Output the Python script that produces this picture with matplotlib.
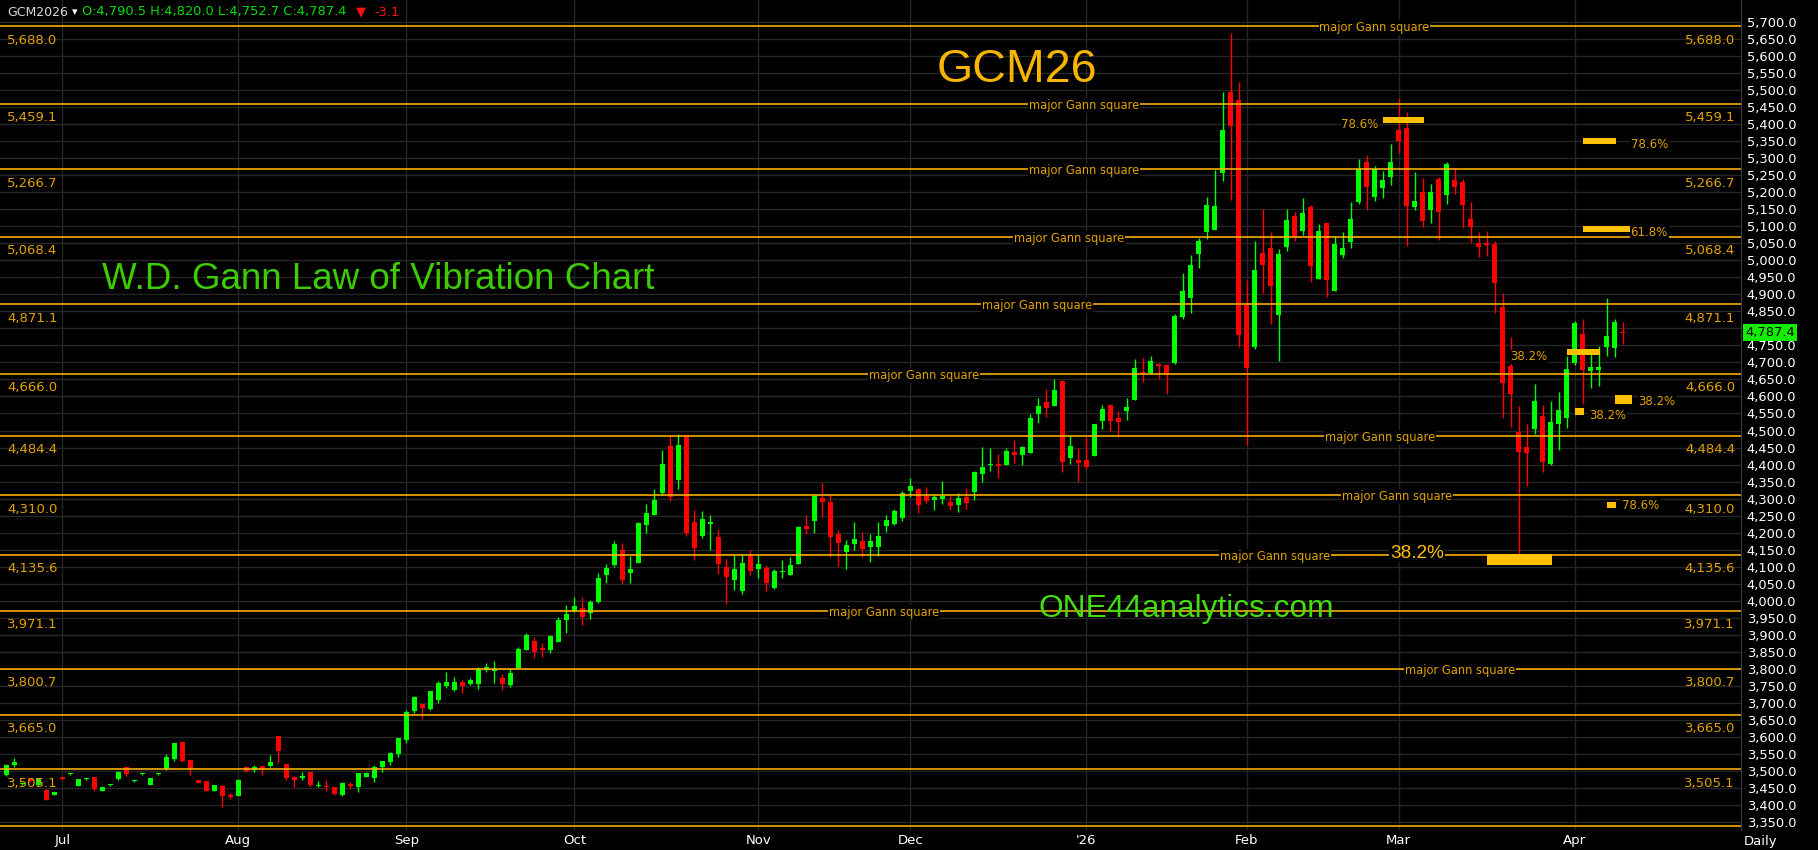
import numpy as np
import matplotlib.pyplot as plt
from matplotlib.patches import Rectangle
from matplotlib.transforms import blended_transform_factory

# daily bars for GCM26, late Jun 2025 -> Apr 2026
opens = [3488, 3518, 3462, 3478, 3459, 3444, 3430, 3482, 3490, 3457,
         3476, 3481, 3442, 3458, 3476, 3511, 3470, 3490, 3459, 3490,
         3505, 3535, 3585, 3532, 3473, 3471, 3441, 3456, 3429, 3427,
         3512, 3502, 3515, 3515, 3603, 3520, 3483, 3478, 3497, 3457,
         3457, 3452, 3430, 3463, 3454, 3483, 3480, 3513, 3527, 3551,
         3591, 3677, 3697, 3682, 3708, 3750, 3738, 3761, 3755, 3755,
         3798, 3795, 3773, 3753, 3803, 3855, 3882, 3861, 3855, 3879,
         3943, 3971, 3979, 3964, 3996, 4076, 4105, 4149, 4082, 4111,
         4222, 4252, 4316, 4455, 4355, 4487, 4231, 4191, 4226, 4187,
         4099, 4062, 4030, 4131, 4094, 4096, 4038, 4083, 4077, 4109,
         4221, 4235, 4303, 4290, 4196, 4144, 4167, 4175, 4159, 4159,
         4221, 4226, 4244, 4323, 4328, 4308, 4297, 4299, 4290, 4282,
         4305, 4320, 4373, 4399, 4402, 4400, 4437, 4429, 4435, 4549,
         4584, 4573, 4646, 4420, 4413, 4413, 4426, 4529, 4575, 4537,
         4558, 4590, 4673, 4668, 4695, 4692, 4699, 4834, 4890, 5019,
         5084, 5090, 5257, 5494, 5471, 4870, 4746, 5021, 5036, 4840,
         5040, 5130, 5087, 5155, 4945, 5109, 4911, 5015, 5055, 5172,
         5290, 5187, 5213, 5245, 5384, 5387, 5156, 5200, 5148, 5240,
         5192, 5237, 5230, 5121, 5051, 5051, 5049, 4862, 4689, 4496,
         4452, 4505, 4543, 4403, 4520, 4538, 4699, 4783, 4676, 4678,
         4746, 4743, 4790.5]
highs = [3521, 3539, 3468, 3480, 3480, 3446, 3439, 3483, 3493, 3477,
         3480, 3483, 3454, 3463, 3500, 3513, 3473, 3493, 3479, 3493,
         3550, 3583, 3586, 3533, 3474, 3472, 3460, 3459, 3436, 3476,
         3514, 3518, 3516, 3547, 3604, 3521, 3485, 3498, 3498, 3471,
         3473, 3453, 3468, 3469, 3495, 3496, 3518, 3530, 3557, 3597,
         3679, 3721, 3698, 3736, 3764, 3791, 3776, 3767, 3773, 3805,
         3817, 3823, 3785, 3800, 3864, 3905, 3894, 3876, 3899, 3952,
         3988, 4011, 4011, 4002, 4082, 4108, 4175, 4170, 4131, 4231,
         4284, 4328, 4443, 4484, 4490, 4489, 4266, 4264, 4252, 4211,
         4123, 4134, 4134, 4149, 4134, 4105, 4093, 4120, 4128, 4220,
         4252, 4314, 4346, 4314, 4208, 4178, 4231, 4202, 4196, 4231,
         4252, 4270, 4322, 4361, 4331, 4334, 4314, 4352, 4308, 4316,
         4331, 4381, 4452, 4449, 4431, 4450, 4472, 4455, 4549, 4595,
         4622, 4651, 4647, 4485, 4450, 4482, 4520, 4575, 4578, 4557,
         4595, 4710, 4713, 4719, 4698, 4693, 4842, 4962, 5015, 5065,
         5186, 5265, 5494, 5667, 5523, 4942, 5056, 5150, 5083, 5033,
         5150, 5142, 5183, 5162, 5106, 5110, 5071, 5083, 5171, 5297,
         5308, 5277, 5262, 5341, 5476, 5434, 5259, 5242, 5224, 5246,
         5290, 5271, 5238, 5171, 5083, 5086, 5058, 4903, 4775, 4572,
         4519, 4637, 4575, 4587, 4613, 4719, 4823, 4827, 4733, 4748,
         4890, 4828, 4820.0]
lows = [3486, 3513, 3460, 3468, 3457, 3414, 3429, 3475, 3489, 3456,
        3473, 3442, 3441, 3457, 3475, 3485, 3469, 3489, 3458, 3489,
        3503, 3529, 3527, 3488, 3465, 3440, 3440, 3395, 3419, 3426,
        3498, 3498, 3488, 3512, 3524, 3473, 3454, 3475, 3452, 3453,
        3442, 3429, 3428, 3447, 3439, 3482, 3469, 3498, 3517, 3540,
        3583, 3671, 3654, 3679, 3701, 3745, 3735, 3729, 3754, 3741,
        3792, 3758, 3738, 3747, 3802, 3854, 3832, 3835, 3847, 3878,
        3905, 3968, 3929, 3946, 3994, 4052, 4099, 4049, 4052, 4110,
        4199, 4251, 4311, 4293, 4328, 4190, 4120, 4185, 4150, 4080,
        3991, 4032, 4021, 4077, 4068, 4030, 4035, 4068, 4076, 4108,
        4197, 4200, 4247, 4129, 4103, 4094, 4150, 4129, 4115, 4132,
        4203, 4223, 4235, 4306, 4259, 4288, 4268, 4284, 4268, 4262,
        4270, 4297, 4350, 4382, 4361, 4399, 4404, 4400, 4434, 4523,
        4541, 4572, 4379, 4403, 4350, 4386, 4425, 4505, 4500, 4482,
        4532, 4589, 4643, 4667, 4652, 4608, 4696, 4828, 4846, 4978,
        5063, 5089, 5234, 5178, 4746, 4457, 4740, 4905, 4814, 4705,
        5028, 5057, 5075, 4937, 4944, 4893, 4910, 5008, 5037, 5166,
        5149, 5175, 5184, 5222, 5314, 5043, 5149, 5099, 5110, 5060,
        5166, 5196, 5096, 5052, 5009, 5013, 4846, 4538, 4510, 4129,
        4338, 4491, 4379, 4400, 4444, 4508, 4691, 4579, 4626, 4632,
        4720, 4717, 4752.7]
closes = [3518, 3527, 3465, 3470, 3478, 3415, 3438, 3476, 3492, 3476,
          3478, 3447, 3453, 3462, 3497, 3492, 3472, 3492, 3478, 3492,
          3541, 3582, 3529, 3505, 3466, 3441, 3459, 3427, 3424, 3474,
          3500, 3512, 3503, 3526, 3559, 3480, 3474, 3486, 3460, 3460,
          3453, 3432, 3465, 3457, 3494, 3495, 3512, 3529, 3554, 3597,
          3673, 3717, 3686, 3735, 3758, 3761, 3761, 3750, 3767, 3800,
          3806, 3800, 3755, 3788, 3858, 3899, 3850, 3855, 3896, 3943,
          3961, 3985, 3952, 3996, 4067, 4096, 4167, 4061, 4093, 4228,
          4258, 4296, 4402, 4306, 4458, 4199, 4156, 4240, 4231, 4109,
          4071, 4093, 4111, 4088, 4108, 4053, 4087, 4086, 4105, 4217,
          4212, 4309, 4291, 4188, 4171, 4164, 4181, 4152, 4175, 4191,
          4237, 4264, 4316, 4337, 4282, 4294, 4305, 4309, 4279, 4302,
          4288, 4378, 4393, 4402, 4397, 4440, 4427, 4452, 4537, 4572,
          4567, 4619, 4408, 4455, 4405, 4394, 4519, 4563, 4529, 4526,
          4569, 4684, 4669, 4704, 4690, 4664, 4836, 4910, 4986, 5056,
          5162, 5159, 5382, 5395, 4781, 4684, 4971, 4986, 4925, 5018,
          5118, 5069, 5139, 4984, 5086, 4943, 5048, 5036, 5121, 5267,
          5216, 5267, 5235, 5289, 5351, 5160, 5174, 5116, 5200, 5143,
          5283, 5216, 5163, 5099, 5040, 5046, 4932, 4640, 4608, 4438,
          4434, 4587, 4407, 4525, 4560, 4681, 4817, 4679, 4686, 4686,
          4777, 4819, 4787.4]
net_change = -3.1

# first bar of each month
month_idx = [7, 29, 50, 71, 94, 113, 135, 155, 174, 196]
month_lbls = ['Jul', 'Aug', 'Sep', 'Oct', 'Nov', 'Dec', "'26", 'Feb', 'Mar', 'Apr']

# Gann square levels, and where the "major Gann square" tag sits (bar index)
levels = [5688.0, 5459.1, 5266.7, 5068.4, 4871.1, 4666.0, 4484.4, 4310.0,
          4135.6, 3971.1, 3800.7, 3665.0, 3505.1, 3338.9]
level_tag_at = [171, 134.7, 134.7, 132.8, 128.8, 114.7, 171.7, 173.8,
                158.6, 109.7, 181.7, None, None, None]
show_level_price = [True] * 13 + [False]

# retracement markers: bar range, price range
marks_x0 = [172.0, 197.0, 197.0, 195.0, 201.0, 196.0, 200.0, 185.0]
marks_x1 = [177.2, 201.2, 203.0, 199.2, 203.2, 197.2, 201.2, 193.2]
marks_lo = [5403, 5341, 5083, 4722, 4578, 4545, 4272, 4105]
marks_hi = [5421, 5359, 5101, 4739, 4604, 4566, 4290, 4137]
# retracement texts: label, bar pos, price, alignment
pct_lbls = ['78.6%', '78.6%', '61.8%', '38.2%', '38.2%', '38.2%', '78.6%']
pct_x = [171.5, 203.0, 203.0, 187.9, 204.0, 197.8, 201.9]
pct_y = [5400, 5341, 5083, 4716, 4584, 4543, 4281]
pct_ha = ['right', 'left', 'left', 'left', 'left', 'left', 'left']

W, H = 1818, 850
GOLD = '#ffb400'
GOLD_TXT = '#e0a200'
UP, DN = '#00ff00', '#ff0000'

fig = plt.figure(figsize=(W / 100, H / 100), dpi=100, facecolor='black')
ax = fig.add_axes([0, 20 / H, 1741 / W, 830 / H], facecolor='black')

o = np.array(opens, float)
c = np.array(closes, float)
hi = np.array(highs, float)
lo = np.array(lows, float)
x = np.arange(len(o))
col = np.where(c >= o, UP, DN)

# candles
ax.vlines(x, lo, hi, colors=col, lw=1, zorder=2)
body = np.maximum(np.abs(c - o), 3.0)
ax.bar(x, body, bottom=np.minimum(o, c), width=0.62, color=col, lw=0, zorder=3)

ax.set_xlim(-0.79, 216.8)
ax.set_ylim(3326.7, 5764.4)

# grid / axes
ax.set_yticks(np.arange(3350, 5701, 50))
# the 4,800 label sits under the last-price tag
ax.yaxis.set_major_formatter(lambda v, pos: '' if abs(v - 4800) < 1 else f'{v:,.1f}')
ax.yaxis.tick_right()
ax.set_xticks(month_idx, month_lbls)
ax.tick_params(axis='y', length=0, pad=4, labelsize=9.4, labelcolor='white')
ax.tick_params(axis='x', length=0, pad=3, labelsize=9.5, labelcolor='white')
ax.grid(True, color='#262626', lw=1)
ax.set_axisbelow(True)
for s in ['top', 'left', 'bottom']:
  ax.spines[s].set_visible(False)
ax.spines['right'].set_color('#3c3c3c')

# Gann levels
tr = blended_transform_factory(ax.transAxes, ax.transData)
for lvl, tag, show in zip(levels, level_tag_at, show_level_price):
  ax.axhline(lvl, color=GOLD, lw=1.15, zorder=4)
  if show:
    s = f'{lvl:,.1f}'
    ax.annotate(s, xy=(0, lvl), xycoords=tr, xytext=(7, -14), textcoords='offset pixels',
                ha='left', va='center', color=GOLD_TXT, fontsize=9.5, zorder=6)
    ax.annotate(s, xy=(1, lvl), xycoords=tr, xytext=(-6, -14), textcoords='offset pixels',
                ha='right', va='center', color=GOLD_TXT, fontsize=9.5, zorder=6)
  if tag is not None:
    ax.text(tag, lvl, 'major Gann square', ha='center', va='center_baseline',
            color=GOLD_TXT, fontsize=8.3, zorder=6,
            bbox=dict(facecolor='black', edgecolor='none', pad=0.6))

# retracement markers
for x0, x1, y0, y1 in zip(marks_x0, marks_x1, marks_lo, marks_hi):
  ax.add_patch(Rectangle((x0, y0), x1 - x0, y1 - y0, facecolor='#ffc000', edgecolor='none', zorder=5))
for s, px, py, ha in zip(pct_lbls, pct_x, pct_y, pct_ha):
  ax.text(px, py, s, ha=ha, va='center', color=GOLD_TXT, fontsize=8.5, zorder=6,
          bbox=dict(facecolor='black', edgecolor='none', pad=0.5))
ax.text(176.3, 4140, '38.2%', ha='center', va='center', color='#ffc000', fontsize=13.7,
        family='Liberation Sans', zorder=6, bbox=dict(facecolor='black', edgecolor='none', pad=0.5))

# last price tag
ax.annotate(f'{closes[-1]:,.1f}', xy=(1, closes[-1]), xycoords=tr, xytext=(4, 0),
            textcoords='offset pixels', ha='left', va='center', color='black', fontsize=9.4,
            annotation_clip=False, zorder=7,
            bbox=dict(facecolor='#11ee00', edgecolor='none', pad=1.6))

# titles
fig.text(1017 / W, 1 - 82.5 / H, 'GCM26', ha='center', va='baseline', color='#f7b500',
         fontsize=33.5, family='Liberation Sans')
fig.text(102 / W, 1 - 289 / H, 'W.D. Gann Law of Vibration Chart', ha='left', va='baseline',
         color='#3ccc00', fontsize=26.5, family='Liberation Sans')
fig.text(1038 / W, 1 - 617 / H, 'ONE44analytics.com', ha='left', va='baseline',
         color='#44dd11', fontsize=22.75, family='Liberation Sans')

# header line
hy = 1 - 12 / H
fig.text(7 / W, hy, 'GCM2026', color='#d8d8d8', fontsize=9, va='center')
fig.text(72 / W, hy, '\u25be', color='white', fontsize=8, va='center')
ohlc = f'O:{opens[-1]:,.1f} H:{highs[-1]:,.1f} L:{lows[-1]:,.1f} C:{closes[-1]:,.1f}'
fig.text(82 / W, hy, ohlc, color='#00dd00', fontsize=9.4, va='center')
fig.text(356 / W, hy, '\u25bc', color='#ff1010', fontsize=9.4, va='center')
fig.text(374 / W, hy, f'{net_change:.1f}', color='#ff1010', fontsize=9.4, va='center')
fig.text(1744 / W, 1 - 842 / H, 'Daily', color='white', fontsize=9.5, va='center')

fig.savefig('out.png', dpi=100, facecolor='black')
